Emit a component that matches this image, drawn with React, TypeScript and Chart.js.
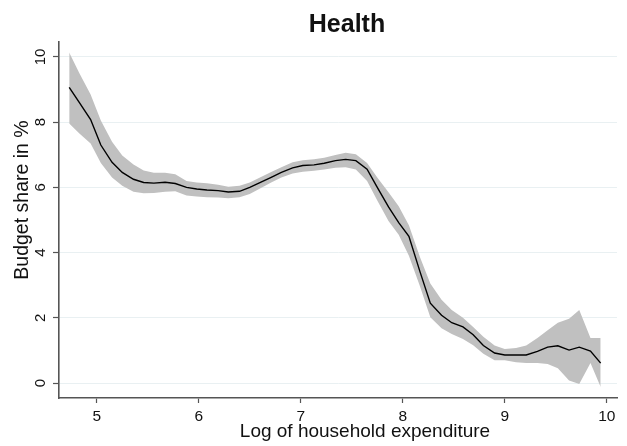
import React, { useEffect, useRef } from "react";
import { Chart, registerables } from "chart.js";

Chart.register(...registerables);

const X_VALUES = [
  4.73, 4.83, 4.94, 5.04, 5.15, 5.25, 5.36, 5.46, 5.56, 5.67, 5.77, 5.88, 5.98, 6.08, 6.19, 6.29, 6.4,
  6.5, 6.61, 6.71, 6.81, 6.92, 7.02, 7.13, 7.23, 7.34, 7.44, 7.54, 7.65, 7.75, 7.86, 7.96, 8.06, 8.17,
  8.27, 8.38, 8.48, 8.59, 8.69, 8.79, 8.9, 9.0, 9.11, 9.21, 9.32, 9.42, 9.52, 9.63, 9.73, 9.84, 9.94,
];

const MEAN_SHARE = [
  9.07, 8.6, 8.08, 7.3, 6.77, 6.46, 6.25, 6.15, 6.13, 6.16, 6.12, 6.0, 5.95, 5.92, 5.9, 5.86, 5.88,
  6.0, 6.16, 6.31, 6.46, 6.6, 6.67, 6.69, 6.74, 6.82, 6.86, 6.82, 6.56, 6.0, 5.4, 4.92, 4.5, 3.4,
  2.45, 2.08, 1.85, 1.72, 1.48, 1.15, 0.92, 0.86, 0.86, 0.86, 0.97, 1.1, 1.14, 1.01, 1.1, 0.98, 0.61,
];

const UPPER_CI = [
  10.14, 9.5, 8.85, 8.05, 7.4, 6.98, 6.7, 6.52, 6.45, 6.45, 6.4, 6.2, 6.15, 6.13, 6.08, 6.02, 6.05,
  6.15, 6.32, 6.47, 6.62, 6.77, 6.83, 6.86, 6.91, 6.99, 7.06, 7.02, 6.75, 6.3, 5.85, 5.42, 4.84, 3.85,
  3.05, 2.55, 2.24, 2.0, 1.72, 1.42, 1.15, 1.04, 1.07, 1.15, 1.38, 1.62, 1.85, 1.97, 2.24, 1.38, 1.38,
];

const LOWER_CI = [
  7.96, 7.65, 7.35, 6.75, 6.3, 6.05, 5.87, 5.82, 5.83, 5.87, 5.88, 5.75, 5.72, 5.7, 5.69, 5.67, 5.7,
  5.8, 5.98, 6.15, 6.3, 6.43, 6.48, 6.51, 6.55, 6.6, 6.62, 6.55, 6.2, 5.6, 4.97, 4.55, 3.9, 2.95,
  2.02, 1.68, 1.5, 1.35, 1.16, 0.9, 0.7, 0.7, 0.64, 0.61, 0.61, 0.58, 0.45, 0.08, -0.03, 0.61, -0.12,
];

const X_TICKS = [5, 6, 7, 8, 9, 10];
const Y_TICKS = [0, 2, 4, 6, 8, 10];

const TITLE = "Health";
const X_TITLE = "Log of household expenditure";
const Y_TITLE = "Budget share in %";

const FONT = "'Liberation Sans', Arial, Helvetica, sans-serif";

const toPoints = (ys: number[]) => X_VALUES.map((x, i) => ({ x, y: ys[i] }));

const textPlugin = {
  id: "stataText",
  afterDraw(chart: any) {
    const ctx = chart.ctx as CanvasRenderingContext2D;
    const yScale = chart.scales.y;
    ctx.save();
    ctx.fillStyle = "#111";
    ctx.font = `bold 25px ${FONT}`;
    ctx.textAlign = "center";
    ctx.textBaseline = "alphabetic";
    ctx.fillText(TITLE, 347, 32);
    ctx.font = `19px ${FONT}`;
    ctx.fillText(X_TITLE, 365, 437);
    ctx.font = `15px ${FONT}`;
    for (const t of yScale.ticks) {
      const py = yScale.getPixelForValue(t.value);
      ctx.save();
      ctx.translate(45, py);
      ctx.rotate(-Math.PI / 2);
      ctx.fillText(String(t.value), 0, 0);
      ctx.restore();
    }
    ctx.font = `19.5px ${FONT}`;
    ctx.save();
    ctx.translate(28, 200);
    ctx.rotate(-Math.PI / 2);
    ctx.fillText(Y_TITLE, 0, 0);
    ctx.restore();
    ctx.restore();
  },
};

export default function App() {
  const canvasRef = useRef<HTMLCanvasElement | null>(null);

  useEffect(() => {
    if (!canvasRef.current) return;
    const chart = new Chart(canvasRef.current, {
      type: "line",
      data: {
        datasets: [
          {
            label: "upper",
            data: toPoints(UPPER_CI),
            borderWidth: 0,
            borderColor: "rgba(0,0,0,0)",
            backgroundColor: "rgb(192,192,192)",
            pointRadius: 0,
            fill: "+1",
            tension: 0,
          },
          {
            label: "lower",
            data: toPoints(LOWER_CI),
            borderWidth: 0,
            borderColor: "rgba(0,0,0,0)",
            backgroundColor: "rgb(192,192,192)",
            pointRadius: 0,
            fill: false,
            tension: 0,
          },
          {
            label: "mean",
            data: toPoints(MEAN_SHARE),
            borderWidth: 1.4,
            borderColor: "#000",
            pointRadius: 0,
            fill: false,
            tension: 0,
          },
        ],
      },
      options: {
        responsive: false,
        animation: false,
        events: [],
        layout: { padding: { left: 0, top: 42, right: 10, bottom: 0 } },
        plugins: {
          legend: { display: false },
          title: { display: false },
          tooltip: { enabled: false },
          filler: { drawTime: "beforeDatasetsDraw" },
        },
        scales: {
          x: {
            type: "linear",
            min: 4.63,
            max: 10.1,
            afterBuildTicks: (scale: any) => {
              scale.ticks = X_TICKS.map((v) => ({ value: v }));
            },
            afterFit: (scale: any) => {
              scale.height = 48;
            },
            grid: {
              drawOnChartArea: false,
              drawTicks: true,
              tickLength: 5,
              tickColor: "#555",
              tickWidth: 1.2,
            },
            border: { display: true, color: "#555", width: 1.6 },
            ticks: {
              color: "#111",
              font: { family: FONT, size: 15.5 },
              padding: 4,
              maxRotation: 0,
              minRotation: 0,
              autoSkip: false,
              callback: (v: any) => String(v),
            },
          },
          y: {
            type: "linear",
            min: -0.46,
            max: 10.46,
            afterBuildTicks: (scale: any) => {
              scale.ticks = Y_TICKS.map((v) => ({ value: v }));
            },
            afterFit: (scale: any) => {
              scale.width = 59;
            },
            grid: {
              color: "#e9f0f2",
              lineWidth: 1,
              drawTicks: true,
              tickLength: 6,
              tickColor: "#555",
              tickWidth: 1.2,
            },
            border: { display: true, color: "#555", width: 1.6 },
            ticks: { display: false },
          },
        },
      },
      plugins: [textPlugin],
    });
    return () => chart.destroy();
  }, []);

  return (
    <div style={{ position: "fixed", left: 0, top: 0, width: 627, height: 446, background: "#fff" }}>
      <canvas ref={canvasRef} width={627} height={446} style={{ display: "block" }} />
    </div>
  );
}
